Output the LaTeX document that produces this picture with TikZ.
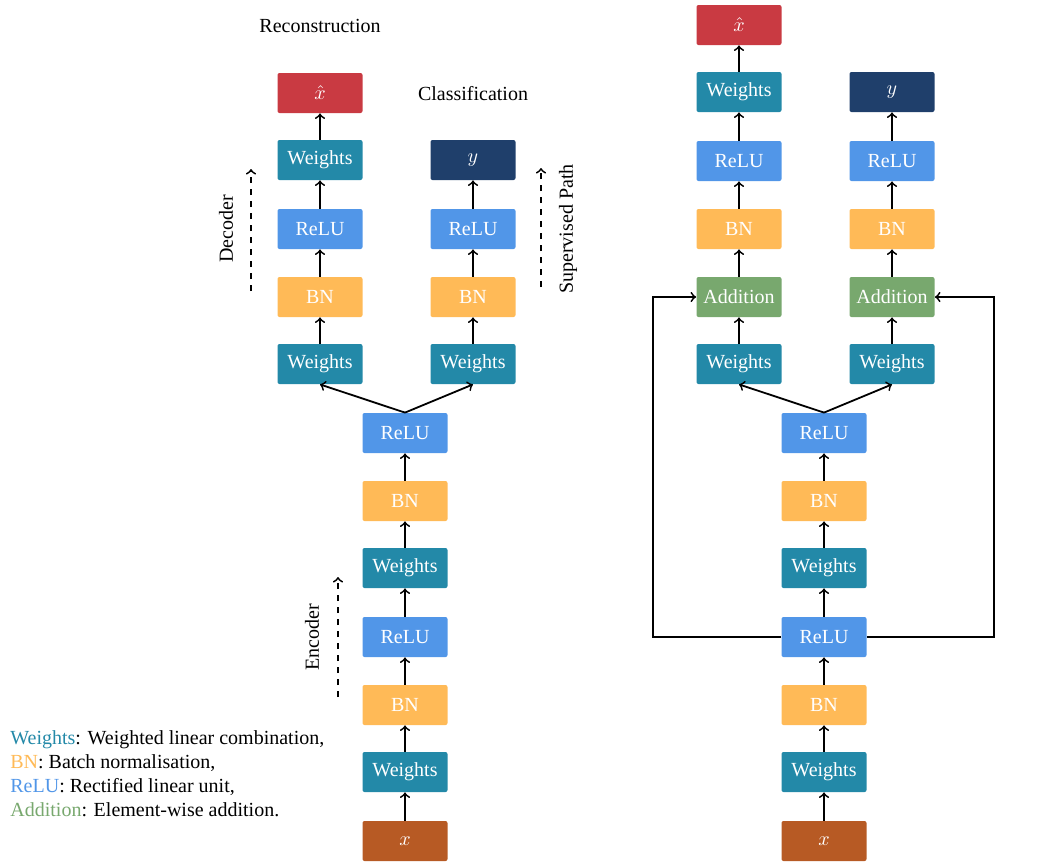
\documentclass[tikz,border=0pt]{standalone}
\usepackage{amsmath}
\usepackage{xcolor}
\usepackage{fontspec}
\setmainfont{Liberation Serif}
\usepackage{tikz}
\usetikzlibrary{arrows,positioning}

\definecolor{wcol}{HTML}{2389A8}
\definecolor{bncol}{HTML}{FFBA57}
\definecolor{relucol}{HTML}{5196E8}
\definecolor{addcol}{HTML}{78A86E}
\definecolor{outcol}{HTML}{C93A42}
\definecolor{ycol}{HTML}{1F3F6B}
\definecolor{incol}{HTML}{B75A24}

\tikzset{
  layer/.style={rounded corners=1pt, minimum width=42.5pt, minimum height=20pt, inner sep=0pt, text=white},
  weights/.style={layer, fill=wcol},
  bn/.style={layer, fill=bncol},
  relu/.style={layer, fill=relucol},
  addition/.style={layer, fill=addcol},
  recbox/.style={layer, fill=outcol},
  classbox/.style={layer, fill=ycol},
  inbox/.style={layer, fill=incol},
  flow/.style={->, line width=0.9pt},
  guide/.style={->, line width=0.9pt, dashed}
}

\begin{document}
\begin{tikzpicture}[x=0.5pt, y=-0.5pt]
	  \useasboundingbox (0,0) rectangle (1060,864);
	  % left: plain network
	  \node[inbox] (lx) at (405,841) {$x$};
	  \node[weights] (lw1) at (405,772) {Weights};
	  \node[bn] (lb1) at (405,705) {BN};
	  \node[relu] (lr1) at (405,637) {ReLU};
	  \node[weights] (lw2) at (405,568) {Weights};
	  \node[bn] (lb2) at (405,501) {BN};
	  \node[relu] (lr2) at (405,433) {ReLU};
	  \node[weights] (ldw1) at (320,364) {Weights};
	  \node[bn] (ldb) at (320,297) {BN};
	  \node[relu] (ldr) at (320,229) {ReLU};
	  \node[weights] (ldw2) at (320,160) {Weights};
	  \node[recbox] (lxh) at (320,93) {$\hat{x}$};
	  \node[weights] (lsw) at (473,364) {Weights};
	  \node[bn] (lsb) at (473,297) {BN};
	  \node[relu] (lsr) at (473,229) {ReLU};
	  \node[classbox] (ly) at (473,160) {$y$};
	  \foreach \a/\b in {lx/lw1,lw1/lb1,lb1/lr1,lr1/lw2,lw2/lb2,lb2/lr2,ldw1/ldb,ldb/ldr,ldr/ldw2,ldw2/lxh,lsw/lsb,lsb/lsr,lsr/ly}
	    \draw[flow] (\a) -- (\b);
	  \draw[flow] (lr2.north) -- (ldw1.south);
	  \draw[flow] (lr2.north) -- (lsw.south);
	  \node (lrec) at (320,26) {Reconstruction};
	  \node (lcls) at (473,94) {Classification};
	  \draw[guide] (251,291) -- (251,169);
	  \node[rotate=90] (ldec) at (226,229) {Decoder};
	  \draw[guide] (541,287) -- (541,168);
	  \node[rotate=90] (lsup) at (568,229) {Supervised Path};
	  \draw[guide] (338,697) -- (338,577);
	  \node[rotate=90] (lenc) at (312,637) {Encoder};
	  % right: with skip connections
	  \node[inbox] (rx) at (824,841) {$x$};
	  \node[weights] (rw1) at (824,772) {Weights};
	  \node[bn] (rb1) at (824,705) {BN};
	  \node[relu] (rr1) at (824,637) {ReLU};
	  \node[weights] (rw2) at (824,568) {Weights};
	  \node[bn] (rb2) at (824,501) {BN};
	  \node[relu] (rr2) at (824,433) {ReLU};
	  \node[weights] (rdw1) at (739,364) {Weights};
	  \node[addition] (rda) at (739,297) {Addition};
	  \node[bn] (rdb) at (739,229) {BN};
	  \node[relu] (rdr) at (739,161) {ReLU};
	  \node[weights] (rdw2) at (739,92) {Weights};
	  \node[recbox] (rxh) at (739,25) {$\hat{x}$};
	  \node[weights] (rsw) at (892,364) {Weights};
	  \node[addition] (rsa) at (892,297) {Addition};
	  \node[bn] (rsb) at (892,229) {BN};
	  \node[relu] (rsr) at (892,161) {ReLU};
	  \node[classbox] (ry) at (892,92) {$y$};
	  \foreach \a/\b in {rx/rw1,rw1/rb1,rb1/rr1,rr1/rw2,rw2/rb2,rb2/rr2,rdw1/rda,rda/rdb,rdb/rdr,rdr/rdw2,rdw2/rxh,rsw/rsa,rsa/rsb,rsb/rsr,rsr/ry}
	    \draw[flow] (\a) -- (\b);
	  \draw[flow] (rr2.north) -- (rdw1.south);
	  \draw[flow] (rr2.north) -- (rsw.south);
	  \draw[flow] (rr1.west) -- ++(-128,0) |- (rda.west);
	  \draw[flow] (rr1.east) -- ++(127,0) |- (rsa.east);
	  % legend
	  \node[anchor=north west, align=left, inner sep=0pt] (legend) at (10,730) {\textcolor{wcol}{Weights}: Weighted linear combination,\\
	    \textcolor{bncol}{BN}: Batch normalisation,\\
	    \textcolor{relucol}{ReLU}: Rectified linear unit,\\
	    \textcolor{addcol}{Addition}: Element-wise addition.};
	\end{tikzpicture}
\end{document}
